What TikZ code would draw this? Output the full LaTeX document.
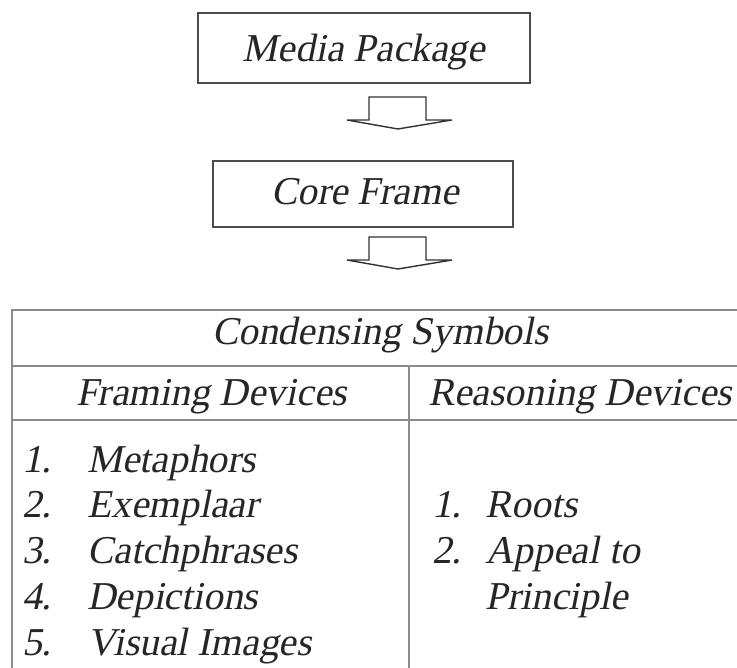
\documentclass[tikz,border=0pt]{standalone}
\usepackage{fontspec}
\newfontfamily\slantserif{Liberation Serif}[FakeSlant=0.2]
\begin{document}
\begin{tikzpicture}[x=1pt,y=-1pt,
  txt/.style={font=\fontsize{39.5}{44}\selectfont\slantserif, inner sep=0pt, text=black!85},
  boxline/.style={draw=black!70, line width=1.6pt},
  tabline/.style={draw=black!45, line width=2pt},
  blkarrow/.style={draw=black!80, line width=1.4pt, line join=miter},
  pics/downarrow/.style={code={
    \draw[blkarrow] (-28.5,0) -- (28.5,0) -- (28.5,23) -- (54.5,23) -- (0.5,32) -- (-50.5,23) -- (-28.5,23) -- cycle;
  }}]
\useasboundingbox (0,0) rectangle (737,668);
\fill[white] (0,0) rectangle (737,668);

% boxes
\node[boxline, minimum width=332pt, minimum height=70pt, inner sep=0pt] (mp) at (364,48) {};
\node[txt, anchor=base] (mpt) at (364,62) {Media Package};
\node[boxline, minimum width=300pt, minimum height=66pt, inner sep=0pt] (cf) at (363,194) {};
\node[txt, anchor=base] (cft) at (365,205) {Core Frame};

% arrows
\coordinate (a1) at (397.5,97);
\coordinate (a2) at (397.5,237);
\pic at (a1) {downarrow};
\pic at (a2) {downarrow};

% table
\draw[tabline] (12,310) -- (745,310);
\draw[tabline] (12,366) -- (745,366);
\draw[tabline] (12,420) -- (745,420);
\draw[tabline] (12,309) -- (12,680);
\draw[tabline] (409,366) -- (409,680);

\node[txt, anchor=base] (cs) at (380.5,345) {Condensing Symbols};
\node[txt, anchor=base] (fd) at (211.5,406) {Framing Devices};
\node[txt, anchor=base] (rd) at (580,406) {Reasoning Devices};

% left list
\node[txt, anchor=base west] (n1) at (22,472) {1.};
\node[txt, anchor=base west] (l1) at (87,472) {Metaphors};
\node[txt, anchor=base west] (n2) at (22,518) {2.};
\node[txt, anchor=base west] (l2) at (87,518) {Exemplaar};
\node[txt, anchor=base west] (n3) at (22,563) {3.};
\node[txt, anchor=base west] (l3) at (87,563) {Catchphrases};
\node[txt, anchor=base west] (n4) at (22,609) {4.};
\node[txt, anchor=base west] (l4) at (87,609) {Depictions};
\node[txt, anchor=base west] (n5) at (22,655) {5.};
\node[txt, anchor=base west] (l5) at (87,655) {Visual Images};

% right list
\node[txt, anchor=base west] (r1n) at (432,518) {1.};
\node[txt, anchor=base west] (r1) at (485,518) {Roots};
\node[txt, anchor=base west] (r2n) at (432,563) {2.};
\node[txt, anchor=base west] (r2) at (485,563) {Appeal to};
\node[txt, anchor=base west] (r3) at (485,609) {Principle};
\end{tikzpicture}
\end{document}
